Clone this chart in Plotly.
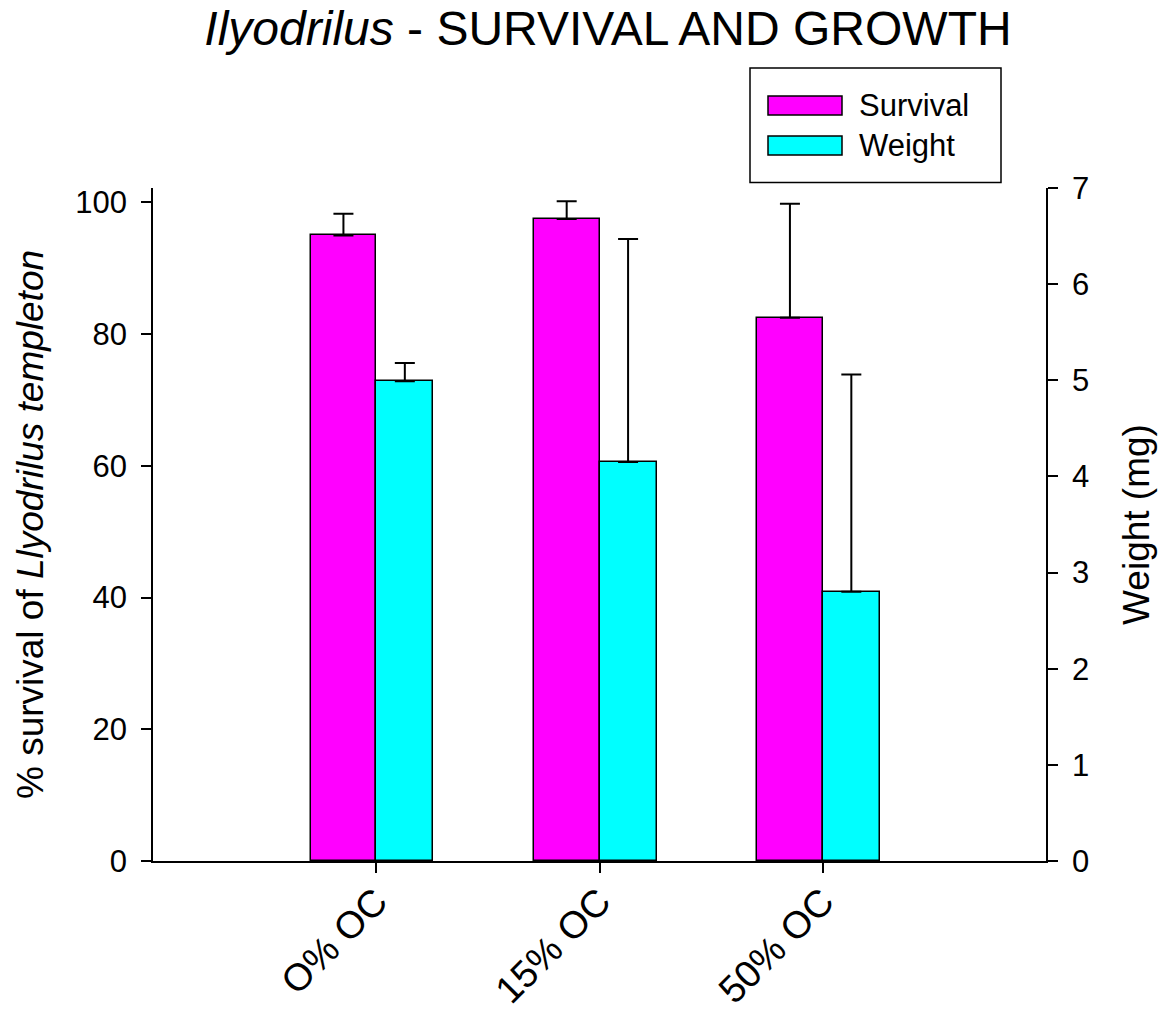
import plotly.graph_objects as go

# ---- data ----
categories = ["O% OC", "15% OC", "50% OC"]
cat_pos = [0, 1, 2]
survival = [95.0, 97.5, 82.5]
survival_err = [3.3, 2.7, 17.3]
weight = [4.99, 4.15, 2.80]
weight_err = [0.19, 2.32, 2.26]
left_ticks = [0, 20, 40, 60, 80, 100]
right_ticks = [0, 1, 2, 3, 4, 5, 6, 7]

# ---- layout geometry (pixels) ----
W, H = 1162, 1015
ML, MR, MT, MB = 153, 116, 188, 154
PW, PH = W - ML - MR, H - MT - MB
FONT = "Liberation Sans, Arial, sans-serif"


def px_x(px):
    return (px - ML) / PW


def px_y(py):
    return (H - MB - py) / PH


fig = go.Figure()
fig.add_trace(go.Bar(
    x=cat_pos, y=survival, name="Survival", yaxis="y",
    width=0.294, offset=-0.294,
    marker=dict(color="#ff00ff", line=dict(color="black", width=1.5)),
    error_y=dict(type="data", array=survival_err, symmetric=False,
                 color="black", thickness=2, width=10),
    showlegend=False,
))
fig.add_trace(go.Bar(
    x=cat_pos, y=weight, name="Weight", yaxis="y2",
    width=0.256, offset=0,
    marker=dict(color="#00ffff", line=dict(color="black", width=1.5)),
    error_y=dict(type="data", array=weight_err, symmetric=False,
                 color="black", thickness=2, width=10),
    showlegend=False,
))

# custom legend box
shapes = [
    dict(type="rect", xref="paper", yref="paper",
         x0=px_x(750), x1=px_x(1001), y0=px_y(182.5), y1=px_y(68),
         line=dict(color="black", width=1.5), fillcolor="white"),
    dict(type="rect", xref="paper", yref="paper",
         x0=px_x(768), x1=px_x(842), y0=px_y(115), y1=px_y(96),
         line=dict(color="black", width=1.5), fillcolor="#ff00ff"),
    dict(type="rect", xref="paper", yref="paper",
         x0=px_x(768), x1=px_x(842), y0=px_y(155), y1=px_y(136),
         line=dict(color="black", width=1.5), fillcolor="#00ffff"),
]
annotations = [
    dict(text="Survival", xref="paper", yref="paper", x=px_x(857), y=px_y(105),
         xanchor="left", yanchor="middle", showarrow=False,
         font=dict(size=31, color="black", family=FONT)),
    dict(text="Weight", xref="paper", yref="paper", x=px_x(857), y=px_y(145),
         xanchor="left", yanchor="middle", showarrow=False,
         font=dict(size=31, color="black", family=FONT)),
]

fig.update_layout(
    width=W, height=H,
    margin=dict(l=ML, r=MR, t=MT, b=MB, autoexpand=False),
    paper_bgcolor="white", plot_bgcolor="white",
    font=dict(family=FONT, color="black", size=31),
    title=dict(text="<i>Ilyodrilus</i> - SURVIVAL AND GROWTH",
               x=608 / W, xanchor="center", y=1 - 28 / H, yanchor="middle",
               xref="container", yref="container",
               font=dict(size=48, family=FONT, color="black")),
    barmode="overlay",
    bargap=0,
    xaxis=dict(range=[-1, 3], tickmode="array", tickvals=cat_pos, ticktext=categories,
               tickangle=-45, tickfont=dict(size=38), showline=True, linecolor="black",
               linewidth=2, ticks="outside", ticklen=10, tickwidth=1.5, tickcolor="black",
               showgrid=False, zeroline=False, ticklabelstandoff=-9),
    yaxis=dict(range=[0, 102.2], tickmode="array", tickvals=left_ticks,
               showline=True, linecolor="black", linewidth=1.5,
               ticks="outside", ticklen=10, tickwidth=1.5, tickcolor="black",
               showgrid=False, zeroline=False, ticklabelstandoff=8,
               title=dict(text="% survival of <i>Llyodrilus templeton</i>",
                          font=dict(size=37), standoff=20)),
    yaxis2=dict(range=[0, 7], tickmode="array", tickvals=right_ticks,
                overlaying="y", side="right",
                showline=True, linecolor="black", linewidth=1.5,
                ticks="outside", ticklen=10, tickwidth=1.5, tickcolor="black",
                showgrid=False, zeroline=False, ticklabelstandoff=8,
                title=dict(text="Weight (mg)", font=dict(size=37), standoff=35)),
    shapes=shapes,
    annotations=annotations,
)

fig.write_html("out.html", config={"displayModeBar": False},
               post_script="document.body.style.margin='0';document.body.style.overflow='hidden';")
